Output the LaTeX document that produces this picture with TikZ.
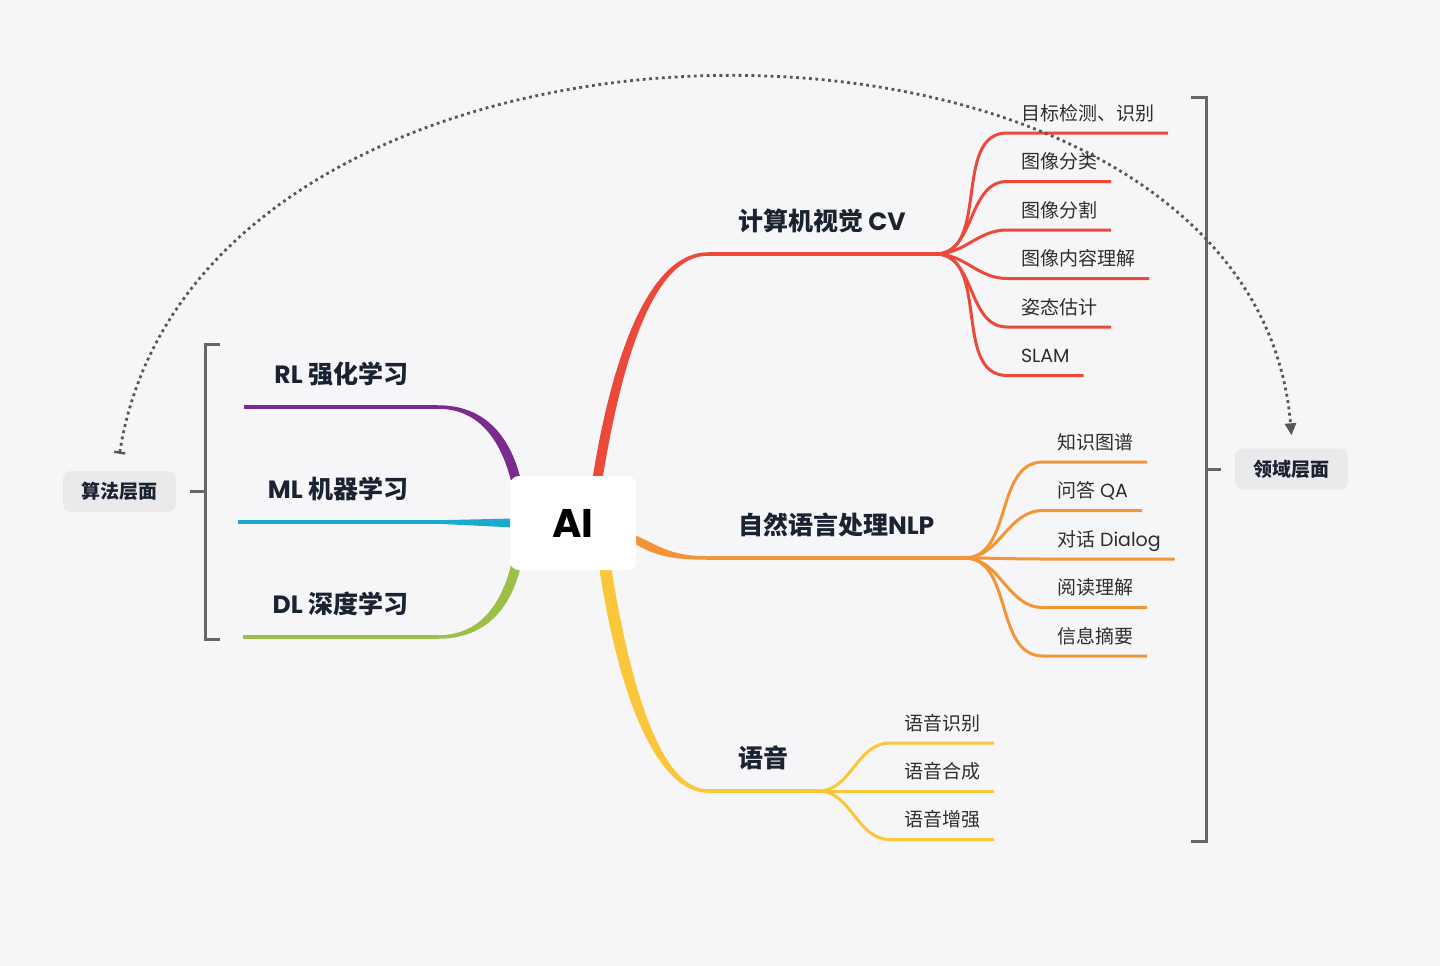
\documentclass[tikz,border=0pt]{standalone}
\usepackage{fontspec}
\setmainfont{Poppins}
\newfontfamily\cjk{Noto Sans CJK SC}
\usetikzlibrary{positioning, arrows.meta, calc}

\definecolor{bgcol}{HTML}{F6F6F8}
\definecolor{cvred}{HTML}{EB4A3A}
\definecolor{nlporange}{HTML}{F39436}
\definecolor{speechyellow}{HTML}{FBC63A}
\definecolor{rlpurple}{HTML}{7B2A8E}
\definecolor{mlcyan}{HTML}{1AAAD0}
\definecolor{dlgreen}{HTML}{9CBF47}
\definecolor{titletxt}{HTML}{1B2333}
\definecolor{subtxt}{HTML}{2E2E2E}
\definecolor{linegray}{HTML}{666666}
\definecolor{tagfill}{HTML}{EAEAEC}

\pgfdeclarelayer{behind}
\pgfsetlayers{behind,main}

\tikzset{
  root/.style={fill=white, rounded corners=9pt, minimum width=126pt, minimum height=94pt,
    font=\fontsize{40}{40}\selectfont\bfseries, text=black},
  topic/.style={inner xsep=30pt, inner ysep=23.5pt, text depth=0pt, outer sep=0pt,
    font=\fontsize{25}{25}\selectfont\bfseries, text=titletxt},
  leaf/.style={inner xsep=14pt, inner ysep=13pt, text depth=0pt, outer sep=0pt,
    font=\fontsize{19}{19}\selectfont, text=subtxt},
  tag/.style={fill=tagfill, rounded corners=8pt, minimum width=113pt, minimum height=41pt,
    font=\fontsize{19}{19}\selectfont\bfseries, text=titletxt},
  stem/.style={line width=3.5pt},
  twig/.style={line width=3pt},
  bracket/.style={draw=linegray, line width=3pt},
  dotline/.style={draw=linegray!85!black, line width=2.8pt, dash pattern=on 2.8pt off 3.6pt,
    {Bar[width=11pt,line width=2.5pt]}-{Triangle[length=12pt,width=11pt]}}
}

\begin{document}
\begin{tikzpicture}[x=1pt, y=-1pt]
  \useasboundingbox (0,0) rectangle (1440,966);

  % centre and topics
  \node[root] (ai) at (573,523) {AI};
  \node[topic, anchor=south west] (cv) at (708,254) {{\cjk 计算机视觉} CV};
  \node[topic, anchor=south west] (nlp) at (708,558) {{\cjk 自然语言处理}NLP};
  \node[topic, anchor=south west] (speech) at (708,791) {{\cjk 语音}};
  \node[topic, anchor=south east] (rl) at (438,407) {RL {\cjk 强化学习}};
  \node[topic, anchor=south east] (ml) at (438,522) {ML {\cjk 机器学习}};
  \node[topic, anchor=south east] (dl) at (438,637) {DL {\cjk 深度学习}};

  % CV leaves
  \node[leaf, anchor=south west] (cv1) at (1007,133) {{\cjk 目标检测、识别}};
  \node[leaf, anchor=south west] (cv2) at (1007,181.5) {{\cjk 图像分类}};
  \node[leaf, anchor=south west] (cv3) at (1007,230) {{\cjk 图像分割}};
  \node[leaf, anchor=south west] (cv4) at (1007,278.5) {{\cjk 图像内容理解}};
  \node[leaf, anchor=south west] (cv5) at (1007,327) {{\cjk 姿态估计}};
  \node[leaf, anchor=south west] (cv6) at (1007,375.5) {SLAM};

  % NLP leaves
  \node[leaf, anchor=south west] (nlp1) at (1043,462) {{\cjk 知识图谱}};
  \node[leaf, anchor=south west] (nlp2) at (1043,510.5) {{\cjk 问答} QA};
  \node[leaf, anchor=south west] (nlp3) at (1043,559) {{\cjk 对话} Dialog};
  \node[leaf, anchor=south west] (nlp4) at (1043,607.5) {{\cjk 阅读理解}};
  \node[leaf, anchor=south west] (nlp5) at (1043,656) {{\cjk 信息摘要}};

  % speech leaves
  \node[leaf, anchor=south west] (sp1) at (890,743) {{\cjk 语音识别}};
  \node[leaf, anchor=south west] (sp2) at (890,791) {{\cjk 语音合成}};
  \node[leaf, anchor=south west] (sp3) at (890,839.5) {{\cjk 语音增强}};

  % levels
  \node[tag] (alg) at (119.5,491.5) {{\cjk 算法层面}};
  \node[tag] (dom) at (1291.5,469) {{\cjk 领域层面}};

  \begin{pgfonlayer}{behind}
    \fill[bgcol] (0,0) rectangle (1440,966);
    % tapered main branches
    \fill[cvred] ([xshift=19pt,yshift=-6pt]ai.north) .. controls +(20,-128) and +(-58,0) .. ([yshift=1.75pt]cv.south west)
      -- ([yshift=-1.75pt]cv.south west) .. controls +(-54,0) and +(20,-124) .. ([xshift=29pt,yshift=-6pt]ai.north) -- cycle;
    \fill[nlporange] ([xshift=-4pt,yshift=-11pt]ai.east) .. controls +(25,10) and +(-40,0) .. ([yshift=1.75pt]nlp.south west)
      -- ([yshift=-1.75pt]nlp.south west) .. controls +(-36,0) and +(22,14) .. ([xshift=-4pt,yshift=-19pt]ai.east) -- cycle;
    \fill[speechyellow] ([xshift=26pt,yshift=4pt]ai.south) .. controls +(20,134) and +(-50,0) .. ([yshift=-1.75pt]speech.south west)
      -- ([yshift=1.75pt]speech.south west) .. controls +(-46,0) and +(20,126) .. ([xshift=38pt,yshift=4pt]ai.south) -- cycle;
    \fill[rlpurple] ([xshift=11pt,yshift=-4pt]ai.north west) .. controls +(-10,-42) and +(48,0) .. ([yshift=1.75pt]rl.south east)
      -- ([yshift=-1.75pt]rl.south east) .. controls +(42,0) and +(-10,-38) .. ([xshift=1pt,yshift=-4pt]ai.north west) -- cycle;
    \fill[dlgreen] ([xshift=11pt,yshift=4pt]ai.south west) .. controls +(-10,42) and +(48,0) .. ([yshift=-1.75pt]dl.south east)
      -- ([yshift=1.75pt]dl.south east) .. controls +(42,0) and +(-10,38) .. ([xshift=1pt,yshift=4pt]ai.south west) -- cycle;
    \fill[mlcyan] ([yshift=1.75pt]ml.south east) -- ([xshift=4pt,yshift=4.5pt]ai.west)
      -- ([xshift=4pt,yshift=-4.5pt]ai.west) -- ([yshift=-1.75pt]ml.south east) -- cycle;
  \end{pgfonlayer}

  % underlines of topics
  \draw[stem, cvred] (cv.south west) -- (cv.south east);
  \draw[stem, nlporange] (nlp.south west) -- (nlp.south east);
  \draw[stem, speechyellow] (speech.south west) -- (speech.south east);
  \draw[stem, rlpurple] (rl.south west) -- (rl.south east);
  \draw[stem, mlcyan] (ml.south west) -- (ml.south east);
  \draw[stem, dlgreen] (dl.south west) -- (dl.south east);

  % CV fan
  \draw[twig, cvred] (cv.south east) to[out=0,in=180] (cv1.south west) -- (cv1.south east);
  \draw[twig, cvred] (cv.south east) to[out=0,in=180] (cv2.south west) -- (cv2.south east);
  \draw[twig, cvred] (cv.south east) to[out=0,in=180] (cv3.south west) -- (cv3.south east);
  \draw[twig, cvred] (cv.south east) to[out=0,in=180] (cv4.south west) -- (cv4.south east);
  \draw[twig, cvred] (cv.south east) to[out=0,in=180] (cv5.south west) -- (cv5.south east);
  \draw[twig, cvred] (cv.south east) to[out=0,in=180] (cv6.south west) -- (cv6.south east);

  % NLP fan
  \draw[twig, nlporange] (nlp.south east) to[out=0,in=180] (nlp1.south west) -- (nlp1.south east);
  \draw[twig, nlporange] (nlp.south east) to[out=0,in=180] (nlp2.south west) -- (nlp2.south east);
  \draw[twig, nlporange] (nlp.south east) to[out=0,in=180] (nlp3.south west) -- (nlp3.south east);
  \draw[twig, nlporange] (nlp.south east) to[out=0,in=180] (nlp4.south west) -- (nlp4.south east);
  \draw[twig, nlporange] (nlp.south east) to[out=0,in=180] (nlp5.south west) -- (nlp5.south east);

  % speech fan
  \draw[twig, speechyellow] (speech.south east) to[out=0,in=180] (sp1.south west) -- (sp1.south east);
  \draw[twig, speechyellow] (speech.south east) to[out=0,in=180] (sp2.south west) -- (sp2.south east);
  \draw[twig, speechyellow] (speech.south east) to[out=0,in=180] (sp3.south west) -- (sp3.south east);

  % brackets
  \draw[bracket] (220,344) -- (205,344) -- (205,639) -- (220,639);
  \draw[bracket] ([xshift=14pt]alg.east) -- +(15,0);
  \draw[bracket] (1191,97) -- (1206,97) -- (1206,841) -- (1191,841);
  \draw[bracket] ([xshift=-14pt]dom.west) -- +(-15,0);

  % algorithm level to domain level
  \draw[dotline] ([yshift=17pt]alg.north) .. controls +(80,-500) and +(-40,-480) .. ([yshift=13pt]dom.north);
\end{tikzpicture}
\end{document}
